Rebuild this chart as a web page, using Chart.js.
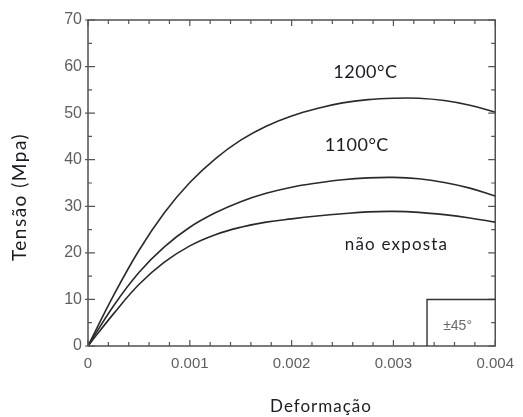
<!DOCTYPE html>
<html>
<head>
<meta charset="utf-8">
<script src="https://cdn.jsdelivr.net/npm/chart.js@4/dist/chart.umd.min.js"></script>
<style>
html,body{margin:0;padding:0;background:#fff;}
#wrap{width:523px;height:417px;position:relative;}
</style>
</head>
<body>
<div id="wrap"><canvas id="c" width="523" height="417"></canvas></div>
<script>
// Data
const strain = [0, 0.00025, 0.0005, 0.00075, 0.001, 0.00125, 0.0015, 0.00175, 0.002,
                0.00225, 0.0025, 0.00275, 0.003, 0.00325, 0.0035, 0.00375, 0.004];
const s1200 = [0, 10.8, 20.5, 28.6, 35.1, 40.2, 44.2, 47.2, 49.4, 51.0, 52.2, 52.9, 53.2, 53.2, 52.7, 51.7, 50.2];
const s1100 = [0, 8.6, 15.8, 21.3, 25.5, 28.6, 31.0, 32.8, 34.1, 35.0, 35.7, 36.1, 36.2, 35.9, 35.1, 33.9, 32.2];
const sNao  = [0, 6.9, 13.2, 18.0, 21.5, 23.9, 25.5, 26.6, 27.3, 27.9, 28.4, 28.8, 28.9, 28.7, 28.2, 27.5, 26.6];
const seriesNames = ['1200°C', '1100°C', 'não exposta'];
const xTicks = [0, 0.001, 0.002, 0.003, 0.004];
const yTicks = [0, 10, 20, 30, 40, 50, 60, 70];
const boxX = [0.00333, 0.004];
const boxY = [0, 10];
const boxLabel = '±45°';
const xTitle = 'Deformação';
const yTitle = 'Tensão (Mpa)';

const pts = arr => arr.map((v, i) => ({x: strain[i], y: v}));

const lineStyle = {
  borderColor: '#2a2a2a', borderWidth: 1.6, pointRadius: 0, fill: false,
  tension: 0.4
};

const annotate = {
  id: 'annotate',
  afterDraw(chart) {
    const ctx = chart.ctx, xs = chart.scales.x, ys = chart.scales.y;
    const a = chart.chartArea;
    ctx.save();
    // frame
    ctx.strokeStyle = '#444'; ctx.lineWidth = 1.4;
    ctx.strokeRect(a.left, a.top, a.right - a.left, a.bottom - a.top);
    // ticks (inward)
    ctx.lineWidth = 1.2; ctx.strokeStyle = '#555';
    ctx.beginPath();
    for (let i = 0; i <= 20; i++) {
      const v = i * 0.0002, px = xs.getPixelForValue(v);
      const major = i % 5 === 0, L = major ? 6 : 4;
      ctx.moveTo(px, a.bottom); ctx.lineTo(px, a.bottom - L);
      ctx.moveTo(px, a.top); ctx.lineTo(px, a.top + L);
    }
    for (let i = 0; i <= 14; i++) {
      const v = i * 5, py = ys.getPixelForValue(v);
      const major = i % 2 === 0, L = major ? 7 : 4;
      ctx.moveTo(a.left - (major ? 3 : 0), py); ctx.lineTo(a.left + L, py);
      ctx.moveTo(a.right, py); ctx.lineTo(a.right - L, py);
    }
    ctx.stroke();
    // ±45° box
    const bx0 = xs.getPixelForValue(boxX[0]), bx1 = xs.getPixelForValue(boxX[1]);
    const by0 = ys.getPixelForValue(boxY[0]), by1 = ys.getPixelForValue(boxY[1]);
    ctx.strokeStyle = '#333'; ctx.lineWidth = 1.4;
    ctx.beginPath();
    ctx.moveTo(bx0, by0); ctx.lineTo(bx0, by1); ctx.lineTo(bx1, by1);
    ctx.stroke();
    ctx.fillStyle = '#6a6a6a';
    ctx.font = '14px "Liberation Sans", Arial, sans-serif';
    ctx.textAlign = 'center'; ctx.textBaseline = 'middle';
    ctx.fillText(boxLabel, xs.getPixelForValue(0.00363), ys.getPixelForValue(4.3));
    // series labels
    ctx.fillStyle = '#1c1c24';
    ctx.font = '18px Lato, "Open Sans", sans-serif';
    ctx.letterSpacing = '0.5px';
    ctx.fillText(seriesNames[0], xs.getPixelForValue(0.002725), ys.getPixelForValue(58.7));
    ctx.fillText(seriesNames[1], xs.getPixelForValue(0.00264), ys.getPixelForValue(43.1));
    ctx.font = '17px Lato, "Open Sans", sans-serif';
    ctx.letterSpacing = '1.2px';
    ctx.fillText(seriesNames[2], xs.getPixelForValue(0.00303), ys.getPixelForValue(21.7));
    // axis titles
    ctx.letterSpacing = '1px';
    ctx.fillText(xTitle, 321, 407);
    ctx.save();
    ctx.translate(20, 197);
    ctx.rotate(-Math.PI / 2);
    ctx.font = '19px Lato, "Open Sans", sans-serif';
    ctx.letterSpacing = '1.5px';
    ctx.fillText(yTitle, 0, 0);
    ctx.restore();
    ctx.restore();
  }
};

new Chart(document.getElementById('c'), {
  type: 'line',
  data: {
    datasets: [
      Object.assign({label: seriesNames[0], data: pts(s1200)}, lineStyle),
      Object.assign({label: seriesNames[1], data: pts(s1100)}, lineStyle),
      Object.assign({label: seriesNames[2], data: pts(sNao)}, lineStyle)
    ]
  },
  options: {
    responsive: false, animation: false,
    layout: {padding: {left: 0, right: 23, top: 20, bottom: 0}},
    plugins: {legend: {display: false}, tooltip: {enabled: false}},
    scales: {
      x: {
        type: 'linear', min: 0, max: 0.004,
        grid: {display: false, drawTicks: false}, border: {display: false},
        afterFit: s => { s.height = 71; },
        afterBuildTicks: s => { s.ticks = xTicks.map(v => ({value: v})); },
        ticks: {
          padding: 9, color: '#5e5e5e',
          font: {family: '"Liberation Sans", Arial, sans-serif', size: 15},
          callback: v => v === 0 ? '0' : v.toFixed(3)
        }
      },
      y: {
        type: 'linear', min: 0, max: 70,
        grid: {display: false, drawTicks: false}, border: {display: false},
        afterFit: s => { s.width = 88; },
        afterBuildTicks: s => { s.ticks = yTicks.map(v => ({value: v})); },
        ticks: {
          padding: 6, color: '#5e5e5e',
          font: {family: '"Liberation Sans", Arial, sans-serif', size: 16},
          callback: v => String(v)
        }
      }
    }
  },
  plugins: [annotate]
});
</script>
</body>
</html>
